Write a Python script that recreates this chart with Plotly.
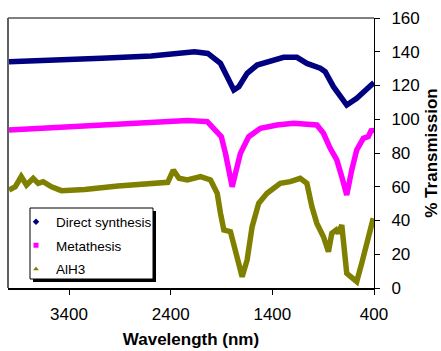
import plotly.graph_objects as go

# ---- data ----
direct_wl = [3990, 3572, 3082, 2592, 2166, 2035, 1942, 1910, 1844, 1779, 1730, 1648, 1550, 1420,
             1289, 1158, 1060, 929, 880, 799, 668, 570, 472, 400]
direct_tr = [134.1, 134.7, 136.1, 137.5, 140.0, 139.0, 134.1, 133.1, 125.2, 117.3, 119.3, 127.2,
             132.1, 134.1, 136.7, 136.7, 133.1, 130.2, 128.2, 119.3, 108.4, 112.4, 118.3, 121.7]

meta_wl = [3990, 3415, 2762, 2236, 2040, 1902, 1861, 1828, 1795, 1763, 1714, 1632, 1517, 1354,
           1191, 962, 897, 831, 766, 717, 668, 619, 570, 505, 456, 423, 400]
meta_tr = [93.6, 95.2, 97.2, 99.2, 98.6, 89.7, 79.8, 69.9, 60.0, 67.9, 79.8, 89.7, 94.6, 96.6,
           97.6, 96.6, 91.7, 82.8, 75.9, 66.0, 55.1, 69.9, 81.8, 88.7, 89.7, 94.0, 92.0]

alh3_wl = [3990, 3928, 3870, 3818, 3752, 3703, 3654, 3572, 3474, 3246, 2919, 2592, 2429, 2374,
           2318, 2236, 2106, 2008, 1942, 1910, 1877, 1812, 1779, 1730, 1697, 1648, 1599, 1534,
           1452, 1322, 1224, 1126, 1060, 1011, 962, 897, 848, 815, 772, 750, 717, 668, 619,
           570, 521, 472, 407]
alh3_tr = [58.1, 60.0, 66.0, 61.0, 65.0, 62.0, 63.0, 60.0, 57.7, 58.4, 60.4, 62.0, 62.6, 69.9,
           65.0, 64.0, 66.0, 64.0, 56.1, 44.3, 34.4, 33.4, 26.5, 14.6, 6.7, 16.6, 36.3, 50.2,
           56.1, 62.0, 63.0, 65.0, 62.0, 48.2, 38.3, 30.4, 21.5, 32.4, 34.4, 32.4, 37.3, 8.7,
           6.7, 3.8, 14.6, 26.5, 41.3]

series_names = ["Direct synthesis", "Metathesis", "AlH3"]
x_ticks = [3400, 2400, 1400, 400]
y_ticks = [0, 20, 40, 60, 80, 100, 120, 140, 160]

colors = ["#000080", "#FF00FF", "#808000"]
symbols = ["diamond", "square", "triangle-up"]
FONT = "Arial, 'Liberation Sans', sans-serif"

fig = go.Figure()
for name, wl, tr, col in zip(series_names, [direct_wl, meta_wl, alh3_wl],
                             [direct_tr, meta_tr, alh3_tr], colors):
    fig.add_trace(go.Scatter(x=wl, y=tr, mode="lines", line=dict(color=col, width=5.5),
                             showlegend=False, legendgroup=name))
for name, col, sym in zip(series_names, colors, symbols):
    fig.add_trace(go.Scatter(x=[None], y=[None], mode="markers", name=name, legendgroup=name,
                             marker=dict(color=col, symbol=sym, size=5)))

L, R, T, B = 8, 67, 18, 63
W, H = 441, 351
pw, ph = W - L - R, H - T - B

def px(x):
    return (x - L) / pw

def py(y):
    return (H - B - y) / ph

shapes = [
    # legend shadow and box
    dict(type="rect", xref="paper", yref="paper", x0=px(33), x1=px(156), y0=py(282), y1=py(211),
         fillcolor="black", line=dict(width=0), layer="above"),
    dict(type="rect", xref="paper", yref="paper", x0=px(30), x1=px(153), y0=py(279), y1=py(208),
         fillcolor="white", line=dict(color="black", width=1), layer="above"),
    # gray frame (top and left)
    dict(type="line", xref="paper", yref="paper", x0=0, x1=1, y0=1, y1=1,
         line=dict(color="#808080", width=2)),
    dict(type="line", xref="paper", yref="paper", x0=0, x1=0, y0=0, y1=1,
         line=dict(color="#606060", width=2)),
]

fig.update_layout(
    width=W, height=H,
    margin=dict(l=L, r=R, t=T, b=B),
    paper_bgcolor="white", plot_bgcolor="white",
    font=dict(family=FONT, color="black", size=17),
    shapes=shapes,
    showlegend=True,
    legend=dict(x=px(16), y=py(206.5), xanchor="left", yanchor="top",
                bgcolor="rgba(0,0,0,0)", borderwidth=0,
                font=dict(family=FONT, size=13.5, color="black"),
                tracegroupgap=3, itemwidth=30),
    xaxis=dict(range=[4000, 400], tickvals=x_ticks, ticktext=[str(v) for v in x_ticks],
               ticks="outside", ticklen=5, tickcolor="black", showline=True, linecolor="black",
               linewidth=2, showgrid=False, zeroline=False, ticklabelstandoff=5,
               tickfont=dict(size=17), automargin=False,
               title=dict(text="<b>Wavelength (nm)</b>", font=dict(size=17), standoff=10)),
    yaxis=dict(range=[0, 160], tickvals=y_ticks, side="right",
               ticks="outside", ticklen=5, tickcolor="black", showline=True, linecolor="black",
               linewidth=1, showgrid=False, zeroline=False, ticklabelstandoff=8,
               tickfont=dict(size=17), automargin=False,
               title=dict(text="<b>% Transmission</b>", font=dict(size=17), standoff=10)),
)

fig.write_html("out.html")
